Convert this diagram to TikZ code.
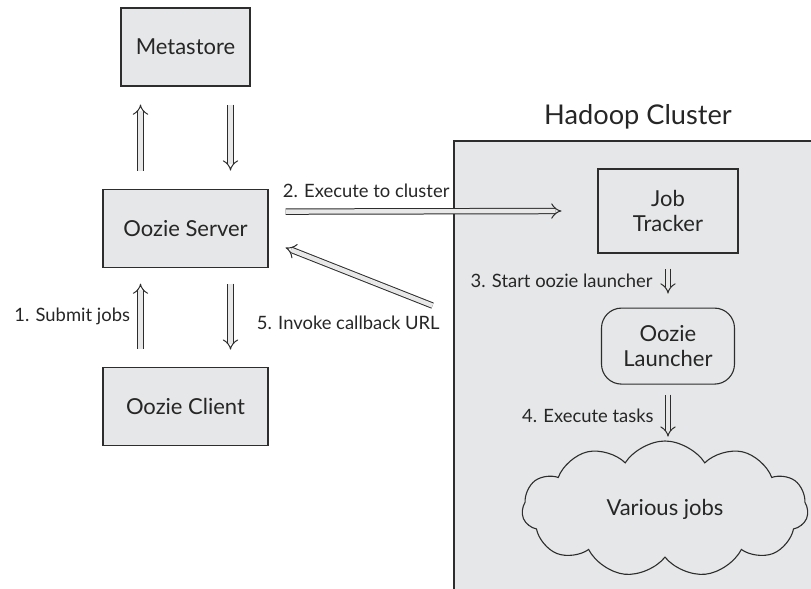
\documentclass[tikz,border=0pt]{standalone}
\usepackage{fontspec}
\setmainfont{Lato}
\usepackage{tikz}
\usetikzlibrary{shapes.symbols, arrows.meta, positioning, calc}
\definecolor{boxgray}{RGB}{230, 231, 232}
\definecolor{edgegray}{RGB}{45, 45, 45}
\definecolor{shaftgray}{RGB}{232, 232, 232}

\begin{document}
\begin{tikzpicture}[
    x=0.5pt, y=-0.5pt,
    box/.style={
      rectangle, draw=edgegray, line width=0.55pt, fill=boxgray,
      minimum width=82.5pt, minimum height=39pt,
      align=center, font=\fontsize{11}{12.5}\selectfont, text=black!85
    },
    roundbox/.style={
      box, rounded corners=10pt, minimum width=66.5pt, minimum height=38pt
    },
    cloudbox/.style={
      cloud, cloud puffs=11, cloud puff arc=115, aspect=2.1,
      draw=edgegray, line width=0.55pt, fill=boxgray,
      minimum width=143pt, minimum height=68pt,
      font=\fontsize{11}{12.5}\selectfont, text=black!85
    },
    lbl/.style={font=\fontsize{9.2}{11}\selectfont, text=black!85, inner sep=2pt},
    harrow/.style={
      double=shaftgray, double distance=2.2pt, line width=0.5pt, draw=edgegray,
      -{Implies}
    }
]
  \useasboundingbox (0,0) rectangle (811,589);

  % hadoop cluster area
  \begin{scope}
    \clip (0,0) rectangle (811,589);
    \draw[fill=boxgray, draw=edgegray, line width=0.55pt]
      (454,141) rectangle (830,610);
  \end{scope}
  \node[font=\fontsize{13.6}{16}\selectfont, text=black!85] (cl) at (638,117) {Hadoop Cluster};

  \node[box, minimum width=64.5pt] (meta) at (185.5,47) {Metastore};
  \node[box]   (srv)    [below=51pt of meta] {Oozie Server};
  \node[box]   (cli)    [below=49.5pt of srv] {Oozie Client};
  \node[box, minimum width=70pt, minimum height=42pt] (jt) at (668,211) {Job\\Tracker};
  \node[roundbox] (ol)  [below=27pt of jt] {Oozie\\Launcher};
  \node[cloudbox] (jobs) at (665,509) {Various jobs};

  % metastore <-> server
  \draw[harrow] ($(srv.north)+(-45,-18)$) -- ($(meta.south)+(-45,18)$);
  \draw[harrow] ($(meta.south)+(45,18)$) -- ($(srv.north)+(45,-18)$);

  % client <-> server
  \draw[harrow] ($(cli.north)+(-45,-18)$) -- node[lbl, left=3pt] (l1) {1. Submit jobs}
    ($(srv.south)+(-45,16)$);
  \draw[harrow] ($(srv.south)+(45,16)$) -- ($(cli.north)+(45,-17)$);

  % server -> cluster and back
  \draw[harrow] ($(srv.east)+(17,-16.5)$) -- ($(jt.west)+(-36,0)$);
  \node[lbl, anchor=west] (l2) at ($(srv.east)+(10,-37)$) {2. Execute to cluster};
  \coordinate (cb) at ($(srv.east)+(164,77.5)$);
  \draw[harrow] (cb) -- ($(srv.east)+(17,19.5)$);
  \node[lbl, anchor=west] (l5) at ($(srv.east)+(-16,94.5)$) {5. Invoke callback URL};

  % inside the cluster
  \draw[harrow] ($(jt.south)+(0,15)$) -- ($(ol.north)+(0,-14)$);
  \node[lbl, anchor=east] (l3) at ($(jt.south)+(-11,27)$) {3. Start oozie launcher};
  \draw[harrow] ($(ol.south)+(0,10)$) -- ($(ol.south)+(0,52)$);
  \node[lbl, anchor=east] (l4) at ($(ol.south)+(-10,31)$) {4. Execute tasks};
\end{tikzpicture}
\end{document}
